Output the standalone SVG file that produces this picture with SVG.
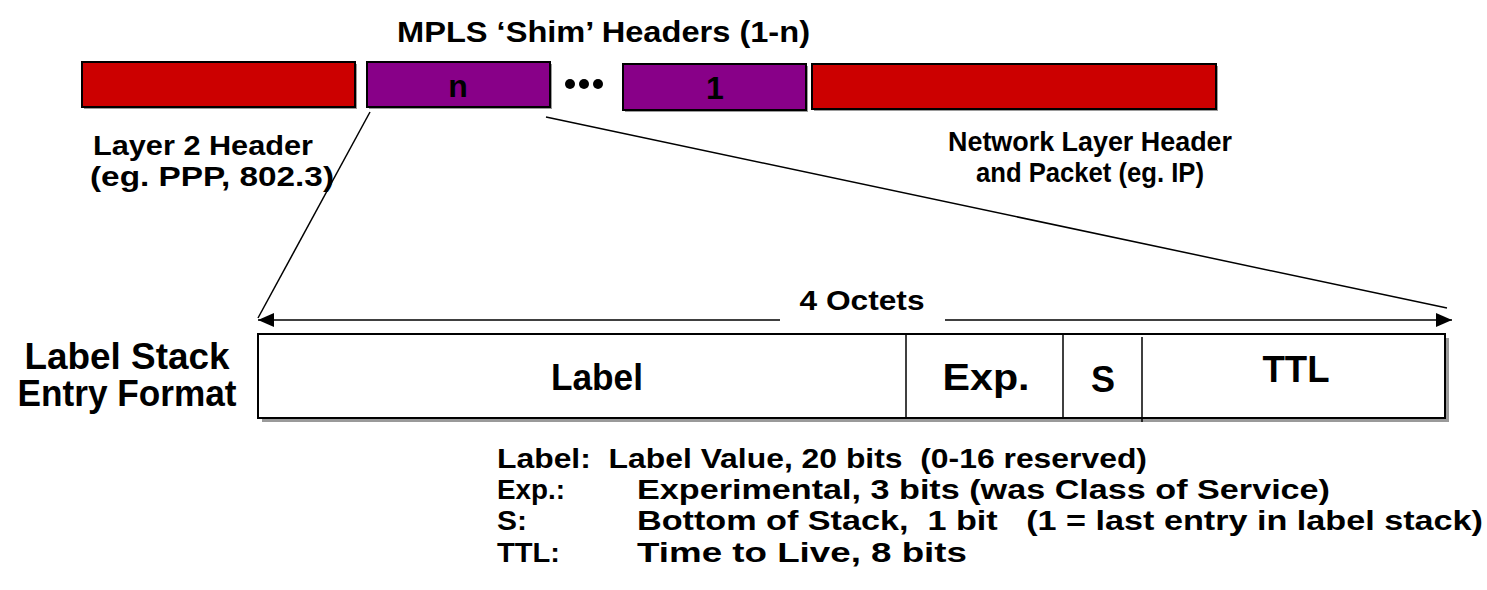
<svg xmlns="http://www.w3.org/2000/svg" width="1487" height="590" viewBox="0 0 1487 590">
  <style>
    text { font-family: "Liberation Sans", Arial, sans-serif; font-weight: bold; fill: #000; white-space: pre; }
    .hdr { stroke: #000; stroke-width: 2; }
    .red { fill: #cc0000; }
    .pur { fill: #880088; }
    .shade { fill: #9a9a9a; }
    .conn { stroke: #000; stroke-width: 1.5; fill: none; }
    .cell { stroke: #000; stroke-width: 1.5; }
    .t30 { font-size: 30px; }
    .t28 { font-size: 28px; }
    .t32 { font-size: 32px; }
    .t36 { font-size: 36px; }
    .desc { font-size: 28px; }
  </style>
  <defs>
    <marker id="ah" viewBox="0 0 16 14" refX="16" refY="7" markerWidth="16" markerHeight="14" markerUnits="userSpaceOnUse" orient="auto">
      <path d="M0,0 L16,7 L0,14 Z" fill="#000"/>
    </marker>
  </defs>
  <rect width="1487" height="590" fill="#fff"/>

  <!-- packet title -->
  <text id="title" class="t30" x="397" y="42" textLength="413" lengthAdjust="spacingAndGlyphs">MPLS ‘Shim’ Headers (1-n)</text>

  <!-- layer 2 header block -->
  <g id="l2">
    <rect class="shade" x="84" y="64" width="273" height="45"/>
    <rect class="hdr red" x="82" y="62" width="273" height="45"/>
    <text class="t28" x="93" y="155" textLength="220" lengthAdjust="spacingAndGlyphs">Layer 2 Header</text>
    <text class="t28" x="90" y="186" textLength="244" lengthAdjust="spacingAndGlyphs">(eg. PPP, 802.3)</text>
  </g>

  <!-- shim header n -->
  <g id="shim-n">
    <rect class="shade" x="369" y="64" width="183" height="45"/>
    <rect class="hdr pur" x="367" y="62" width="183" height="45"/>
    <text class="t32" x="458" y="97" text-anchor="middle">n</text>
  </g>

  <!-- ellipsis between shim headers -->
  <g id="dots">
    <circle cx="570" cy="84" r="5"/>
    <circle cx="584" cy="84" r="5"/>
    <circle cx="598" cy="84" r="5"/>
  </g>

  <!-- shim header 1 -->
  <g id="shim-1">
    <rect class="shade" x="625" y="66" width="183" height="46"/>
    <rect class="hdr pur" x="623" y="64" width="183" height="46"/>
    <text class="t32" x="715" y="99" text-anchor="middle">1</text>
  </g>

  <!-- network layer block -->
  <g id="net">
    <rect class="shade" x="814" y="66" width="404" height="45"/>
    <rect class="hdr red" x="812" y="64" width="404" height="45"/>
    <text class="t28" x="1090" y="151" text-anchor="middle" textLength="284" lengthAdjust="spacingAndGlyphs">Network Layer Header</text>
    <text class="t28" x="1090" y="182" text-anchor="middle" textLength="228" lengthAdjust="spacingAndGlyphs">and Packet (eg. IP)</text>
  </g>

  <!-- expansion lines and octet span arrow -->
  <g id="connectors">
    <line class="conn" x1="370" y1="112" x2="258" y2="318"/>
    <line class="conn" x1="546" y1="117" x2="1447" y2="308"/>
    <line class="conn" x1="780" y1="320" x2="258" y2="320" marker-end="url(#ah)"/>
    <line class="conn" x1="945" y1="320" x2="1452" y2="320" marker-end="url(#ah)"/>
  </g>
  <text id="octets" class="t28" x="862" y="310" text-anchor="middle" textLength="125" lengthAdjust="spacingAndGlyphs">4 Octets</text>

  <!-- label stack entry -->
  <g id="entry-caption">
    <text class="t36" x="127" y="369" text-anchor="middle" textLength="205" lengthAdjust="spacingAndGlyphs">Label Stack</text>
    <text class="t36" x="127" y="406" text-anchor="middle" textLength="219" lengthAdjust="spacingAndGlyphs">Entry Format</text>
  </g>
  <g id="entry">
    <rect class="shade" x="262" y="338" width="1187" height="84"/>
    <rect x="258" y="334" width="1187" height="84" fill="#fff" stroke="#000" stroke-width="2"/>
    <line class="cell" x1="906" y1="334" x2="906" y2="418"/>
    <line class="cell" x1="1063" y1="334" x2="1063" y2="418"/>
    <line class="cell" x1="1142" y1="337" x2="1142" y2="422"/>
    <text class="t36" x="597" y="390" text-anchor="middle" textLength="92" lengthAdjust="spacingAndGlyphs">Label</text>
    <text class="t36" x="986" y="390" text-anchor="middle" textLength="87" lengthAdjust="spacingAndGlyphs">Exp.</text>
    <text class="t36" x="1103" y="392" text-anchor="middle">S</text>
    <text class="t36" x="1296" y="382" text-anchor="middle" textLength="67" lengthAdjust="spacingAndGlyphs">TTL</text>
  </g>

  <!-- field legend -->
  <g id="legend" class="desc">
    <text x="497" y="468" textLength="650" lengthAdjust="spacingAndGlyphs">Label:  Label Value, 20 bits  (0-16 reserved)</text>
    <text x="497" y="499" textLength="68" lengthAdjust="spacingAndGlyphs">Exp.:</text>
    <text x="637" y="499" textLength="693" lengthAdjust="spacingAndGlyphs">Experimental, 3 bits (was Class of Service)</text>
    <text x="497" y="530" textLength="30" lengthAdjust="spacingAndGlyphs">S:</text>
    <text x="637" y="530" textLength="846" lengthAdjust="spacingAndGlyphs">Bottom of Stack,  1 bit   (1 = last entry in label stack)</text>
    <text x="497" y="562" textLength="63" lengthAdjust="spacingAndGlyphs">TTL:</text>
    <text x="637" y="562" textLength="330" lengthAdjust="spacingAndGlyphs">Time to Live, 8 bits</text>
  </g>
</svg>
